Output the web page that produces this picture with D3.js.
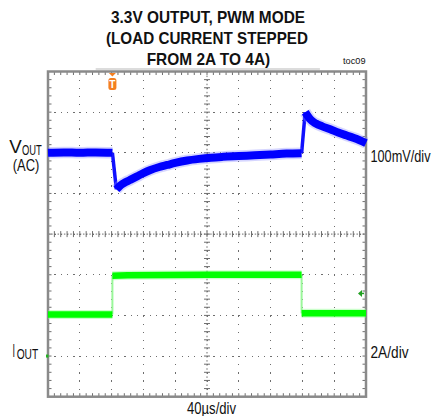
<!DOCTYPE html>
<html>
<head>
<meta charset="utf-8">
<script src="https://cdn.jsdelivr.net/npm/d3@7"></script>
<style>
  html, body { margin: 0; padding: 0; background: #fff; }
  svg { display: block; }
  text { font-family: "Liberation Sans Narrow", "Arial Narrow", "Liberation Sans", Arial, sans-serif; fill: #111; }
</style>
</head>
<body>
<div id="chart"></div>
<script>
// ---------------- data ----------------
const titleLines = ["3.3V OUTPUT, PWM MODE", "(LOAD CURRENT STEPPED", "FROM 2A TO 4A)"];
const timeDivUs = 40;              // 40µs/div
const timeDivs = 10;
const voltDivMv = 100;             // 100mV/div
const currDivA = 2;                // 2A/div
const vertDivs = 8;

// V_OUT (AC) in mV relative to screen centre, three segments
const voutPreT   = [0, 20, 40, 60, 81];
const voutPreMv  = [200, 201, 200, 201, 200];
const voutLoadT  = [86, 90, 95, 103, 112, 120, 128, 140, 150, 160, 175, 190, 205, 220, 240, 260, 280, 300, 319];
const voutLoadMv = [110, 118, 125, 133, 142, 150, 157, 165, 170, 175, 181, 185, 188, 190, 192, 194, 196, 198, 199];
const voutRelT   = [323.5, 327, 330, 337, 345, 355, 365, 375, 384, 392, 400];
const voutRelMv  = [300, 290, 282, 272, 265, 258, 250, 243, 237, 231, 224];

// I_OUT in A (ground marker at 0 A), three segments
const ioutPreT   = [0, 81];
const ioutPreA   = [2.05, 2.05];
const ioutLoadT  = [81, 100, 200, 319];
const ioutLoadA  = [3.95, 3.98, 4.0, 4.0];
const ioutRelT   = [319, 400];
const ioutRelA   = [2.1, 2.1];

const triggerTimeUs = 81;
const triggerLevelA = 3.08;

// ---------------- layout ----------------
const W = 433, H = 416;
const svg = d3.select("#chart").append("svg").attr("width", W).attr("height", H);

const plot = { left: 48, right: 366, top: 71.5, bottom: 396.7 };
const x  = d3.scaleLinear().domain([0, timeDivUs * timeDivs]).range([plot.left, plot.right]);
const yV = d3.scaleLinear().domain([-voltDivMv * vertDivs / 2, voltDivMv * vertDivs / 2]).range([plot.bottom, plot.top]);
const yI = d3.scaleLinear().domain([-currDivA, currDivA * 7]).range([plot.bottom, plot.top]);

const xMinor = (x(timeDivUs) - x(0)) / 5;
const yMinor = (yV(0) - yV(voltDivMv)) / 5;
const gridColor = "#6e6e6e";

// ---------------- grid ----------------
const grid = svg.append("g");
const xDivs = d3.range(1, timeDivs).map(k => k * timeDivUs);
const yDivs = d3.range(1, vertDivs).map(k => -voltDivMv * vertDivs / 2 + k * voltDivMv);

grid.selectAll("line.vg").data(xDivs).join("line")
  .attr("x1", d => x(d)).attr("x2", d => x(d))
  .attr("y1", plot.top).attr("y2", plot.bottom)
  .attr("stroke", gridColor).attr("stroke-width", 1)
  .attr("stroke-dasharray", `1.2 ${yMinor - 1.2}`)
  .attr("shape-rendering", "crispEdges");

grid.selectAll("line.hg").data(yDivs).join("line")
  .attr("x1", plot.left).attr("x2", plot.right)
  .attr("y1", d => yV(d)).attr("y2", d => yV(d))
  .attr("stroke", gridColor).attr("stroke-width", 1)
  .attr("stroke-dasharray", `1.2 ${xMinor - 1.2}`)
  .attr("shape-rendering", "crispEdges");

// minor ticks along centre axes and borders
const xMinorPos = d3.range(0, timeDivs * 5 + 1).map(k => plot.left + k * xMinor);
const yMinorPos = d3.range(0, vertDivs * 5 + 1).map(k => plot.top + k * yMinor);
const cx = x(timeDivUs * timeDivs / 2), cy = yV(0);

const ticks = svg.append("g").attr("stroke", "#6e6e6e").attr("stroke-width", 1);
ticks.selectAll("line.cht").data(xMinorPos.slice(1, -1)).join("line")
  .attr("x1", d => d).attr("x2", d => d).attr("y1", cy - 3).attr("y2", cy + 3);
ticks.selectAll("line.cvt").data(yMinorPos.slice(1, -1)).join("line")
  .attr("y1", d => d).attr("y2", d => d).attr("x1", cx - 3).attr("x2", cx + 3);
ticks.selectAll("line.bt").data(xMinorPos.slice(1, -1)).join("line")
  .attr("x1", d => d).attr("x2", d => d).attr("y1", plot.top).attr("y2", plot.top + 3.5);
ticks.selectAll("line.bb").data(xMinorPos.slice(1, -1)).join("line")
  .attr("x1", d => d).attr("x2", d => d).attr("y1", plot.bottom - 3.5).attr("y2", plot.bottom);
ticks.selectAll("line.bl").data(yMinorPos.slice(1, -1)).join("line")
  .attr("y1", d => d).attr("y2", d => d).attr("x1", plot.left).attr("x2", plot.left + 3.5);
ticks.selectAll("line.br").data(yMinorPos.slice(1, -1)).join("line")
  .attr("y1", d => d).attr("y2", d => d).attr("x1", plot.right - 3.5).attr("x2", plot.right);
ticks.append("line").attr("x1", plot.left).attr("x2", plot.right).attr("y1", cy).attr("y2", cy)
  .attr("stroke-dasharray", `1.5 ${xMinor / 2 - 1.5}`);
ticks.append("line").attr("y1", plot.top).attr("y2", plot.bottom).attr("x1", cx).attr("x2", cx)
  .attr("stroke-dasharray", `1.5 ${yMinor / 2 - 1.5}`);

// frame
svg.append("line").attr("x1", x(60)).attr("x2", x(342)).attr("y1", plot.top - 2.5).attr("y2", plot.top - 2.5)
  .attr("stroke", "#d0d0d0").attr("stroke-width", 1.5);
svg.append("rect")
  .attr("x", plot.left).attr("y", plot.top)
  .attr("width", plot.right - plot.left).attr("height", plot.bottom - plot.top)
  .attr("fill", "none").attr("stroke", "#8a8a8a").attr("stroke-width", 2.5);

// ---------------- traces ----------------
const traces = svg.append("g");
const lineV = d3.line().x(d => x(d[0])).y(d => yV(d[1])).curve(d3.curveMonotoneX);
const lineI = d3.line().x(d => x(d[0])).y(d => yI(d[1]));

const vSegs = [
  d3.zip(voutPreT, voutPreMv),
  d3.zip(voutLoadT, voutLoadMv),
  d3.zip(voutRelT, voutRelMv)
];
const iSegs = [
  d3.zip(ioutPreT, ioutPreA),
  d3.zip(ioutLoadT, ioutLoadA),
  d3.zip(ioutRelT, ioutRelA)
];

// current trace
iSegs.slice(0, -1).forEach((s, k) => {
  const a = s[s.length - 1], b = iSegs[k + 1][0];
  traces.append("line")
    .attr("x1", x(a[0])).attr("x2", x(b[0])).attr("y1", yI(a[1])).attr("y2", yI(b[1]))
    .attr("stroke", "#9af79a").attr("stroke-width", 2);
});
iSegs.forEach(s => {
  traces.append("path").attr("d", lineI(s)).attr("fill", "none")
    .attr("stroke", "#7dff7d").attr("stroke-opacity", 0.4).attr("stroke-width", 9);
  traces.append("path").attr("d", lineI(s)).attr("fill", "none")
    .attr("stroke", "#00ff00").attr("stroke-width", 6.5);
});

// voltage trace
vSegs.slice(0, -1).forEach((s, k) => {
  const a = s[s.length - 1], b = vSegs[k + 1][0];
  traces.append("line")
    .attr("x1", x(a[0])).attr("x2", x(b[0])).attr("y1", yV(a[1])).attr("y2", yV(b[1]))
    .attr("stroke", "#1010ff").attr("stroke-width", 3.5);
});
vSegs.forEach(s => {
  traces.append("path").attr("d", lineV(s)).attr("fill", "none")
    .attr("stroke", "#8a8aff").attr("stroke-opacity", 0.35).attr("stroke-width", 11.5);
  traces.append("path").attr("d", lineV(s)).attr("fill", "none")
    .attr("stroke", "#0000ff").attr("stroke-width", 8);
});

// ---------------- markers ----------------
const tx = x(triggerTimeUs);
const trig = svg.append("g");
trig.append("path").attr("d", `M${tx - 3.5},${plot.top + 1.5} L${tx + 3.5},${plot.top + 1.5} L${tx},${plot.top + 5} Z`)
  .attr("fill", "#f47f20");
trig.append("rect").attr("x", tx - 4).attr("y", plot.top + 6.5).attr("width", 8).attr("height", 12).attr("rx", 2.5)
  .attr("fill", "#f47f20");
trig.append("text").attr("x", tx).attr("y", plot.top + 16.5).attr("text-anchor", "middle")
  .attr("font-size", 10).attr("font-weight", "bold").style("fill", "#fff").text("T");

const ty = yI(triggerLevelA);
svg.append("path").attr("d", `M${plot.right - 8},${ty} L${plot.right - 4},${ty - 3.5} L${plot.right - 4},${ty + 3.5} Z`)
  .attr("fill", "#22a022");
svg.append("line").attr("x1", plot.right - 5).attr("x2", plot.right - 2).attr("y1", ty).attr("y2", ty)
  .attr("stroke", "#22a022").attr("stroke-width", 1.5);
svg.append("rect").attr("x", plot.left - 2).attr("y", yI(0) - 1.5).attr("width", 2.5).attr("height", 3)
  .attr("fill", "#22b022");

// ---------------- text ----------------
const txt = (s, xx, yy, size, opts = {}) => {
  const t = svg.append("text").attr("x", xx).attr("y", yy).attr("font-size", size).text(s);
  if (opts.bold) t.attr("font-weight", "bold");
  if (opts.anchor) t.attr("text-anchor", opts.anchor);
  if (opts.len) t.attr("textLength", opts.len).attr("lengthAdjust", "spacingAndGlyphs");
  return t;
};
// narrow text drawn at a smaller natural width and stretched vertically
const tallTxt = (s, xx, yy, size, stretch, len) => {
  return svg.append("text")
    .attr("transform", `translate(${xx},${yy}) scale(1,${stretch})`)
    .attr("x", 0).attr("y", 0).attr("font-size", size)
    .attr("textLength", len).attr("lengthAdjust", "spacingAndGlyphs")
    .text(s);
};

const titleY = [22.7, 44.3, 65.3];
const titleX = [111, 106, 146.7];
const titleLen = [194, 202, 123.5];
titleLines.forEach((s, i) => txt(s, titleX[i], titleY[i], 16.5, { bold: true, len: titleLen[i] }));

txt("toc09", 343, 64.3, 8.5, { len: 22.5 });

txt("V", 9.3, 153.3, 18, { len: 12.5 });
txt("OUT", 22, 155.3, 14, { len: 19.8 });
txt("(AC)", 12.7, 171.2, 16, { len: 26.6 });

txt("I", 12.5, 356.5, 18, { len: 2.5 });
txt("OUT", 16.7, 359.3, 14, { len: 21.5 });

tallTxt(`${voltDivMv}mV/div`, 370.5, 162, 12.6, 1.3, 60);
txt(`${currDivA}A/div`, 370.5, 357.5, 16.5, { len: 38 });
txt(`${timeDivUs}µs/div`, 187, 414, 16.5, { len: 49 });
</script>
</body>
</html>
